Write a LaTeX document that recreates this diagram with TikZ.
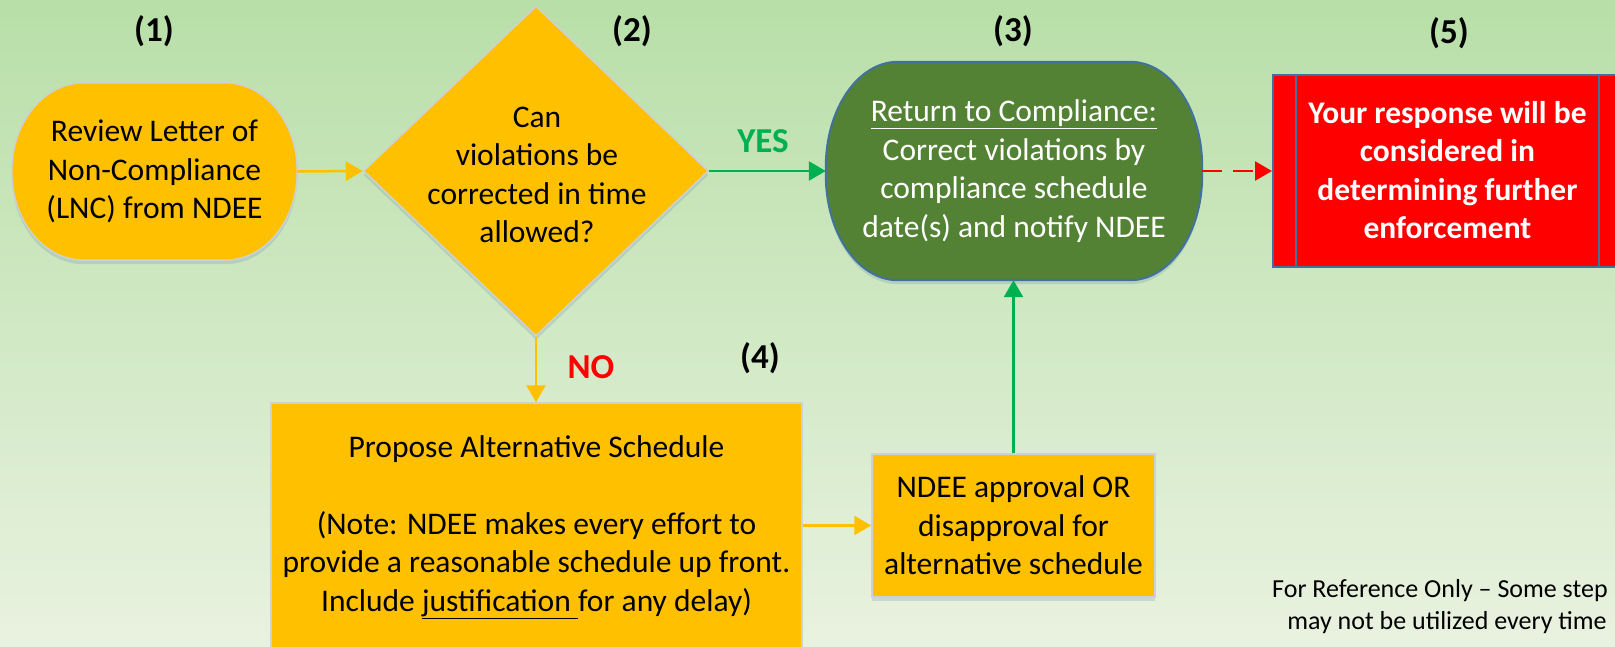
\documentclass[tikz,border=0pt]{standalone}
\usepackage{fontspec}
\setmainfont{Carlito}
\usetikzlibrary{shapes.geometric,arrows.meta,shadows}
\definecolor{amber}{RGB}{255,192,0}
\definecolor{dkgreen}{RGB}{84,130,53}
\definecolor{edgeblue}{RGB}{65,113,156}
\definecolor{arrgreen}{RGB}{0,176,80}
\definecolor{bgtop}{RGB}{184,223,168}
\definecolor{bgbot}{RGB}{233,242,224}
\definecolor{lightedge}{RGB}{205,208,212}
\definecolor{redfill}{RGB}{255,0,0}
\pgfdeclarelayer{bglayer}
\pgfdeclarelayer{shapelayer}
\pgfsetlayers{bglayer,shapelayer,main}
\newcommand\myellbox[4]{%
  \path[#1] ([xshift=#3]#2.north west) -- ([xshift=-#3]#2.north east)
    arc[start angle=90,end angle=0,x radius=#3,y radius=#4]
    -- ([yshift=#4]#2.south east)
    arc[start angle=0,end angle=-90,x radius=#3,y radius=#4]
    -- ([xshift=#3]#2.south west)
    arc[start angle=270,end angle=180,x radius=#3,y radius=#4]
    -- ([yshift=-#4]#2.north west)
    arc[start angle=180,end angle=90,x radius=#3,y radius=#4] -- cycle;}
\tikzset{
  bodytext/.style={align=center, inner sep=0pt, font=\fontsize{31.5}{38.5}\selectfont},
  softshadow/.style={drop shadow={shadow xshift=0pt, shadow yshift=-4pt, opacity=0.18, fill=edgeblue}},
  amberbox/.style={bodytext, rectangle, fill=amber, draw=lightedge, line width=1.5pt, softshadow},
  steplabel/.style={font=\bfseries\fontsize{35}{42}\selectfont, inner sep=0pt},
  decision/.style={font=\bfseries\fontsize{35}{42}\selectfont, inner sep=0pt},
  notetext/.style={inner sep=0pt, font=\fontsize{26}{32}\selectfont},
  conn/.style={line width=2.5pt, -{Triangle[length=17pt,width=19pt]}},
  orangeconn/.style={conn, draw=amber},
  greenconn/.style={conn, draw=arrgreen},
  redconn/.style={conn, draw=redfill, dash pattern=on 20pt off 11pt}
}
\begin{document}
\begin{tikzpicture}[x=1pt,y=-1pt]
\useasboundingbox (0,0) rectangle (1615,647);
\clip (0,0) rectangle (1615,647);
\begin{pgfonlayer}{bglayer}
  \shade[top color=bgtop, bottom color=bgbot] (0,0) rectangle (1615,647);
\end{pgfonlayer}

% step labels
\node[steplabel] (l1) at (154,31) {(1)};
\node[steplabel] (l2) at (632,31) {(2)};
\node[steplabel] (l3) at (1013,31) {(3)};
\node[steplabel] (l4) at (760,358) {(4)};
\node[steplabel] (l5) at (1449,33) {(5)};

% (1) review
\node[bodytext, minimum width=285pt, minimum height=177pt] (review) at (154.5,171.5)
  {Review Letter of\\Non-Compliance\\(LNC) from NDEE};
\begin{pgfonlayer}{shapelayer}
  \myellbox{fill=amber, draw=lightedge, line width=1.5pt, softshadow}{review}{72pt}{88pt}
\end{pgfonlayer}

% (2) decision diamond
\node[diamond, fill=amber, draw=lightedge, line width=1.5pt, softshadow,
      minimum width=345pt, minimum height=330pt, inner sep=0pt] (q) at (536,171) {};
\node[bodytext] (qtext) at (537,175) {Can\\violations be\\corrected in time\\allowed?};

% (3) return to compliance
\node[bodytext, text=white, minimum width=376pt, minimum height=218pt] (ret) at (1014,171)
  {\underline{Return to Compliance:}\\Correct violations by\\compliance schedule\\date(s) and notify NDEE};
\begin{pgfonlayer}{shapelayer}
  \myellbox{fill=dkgreen, draw=edgeblue, line width=2pt, softshadow}{ret}{72pt}{105pt}
\end{pgfonlayer}

% (5) response
\node[rectangle, fill=redfill, draw=edgeblue, line width=2pt, minimum width=349pt,
      minimum height=192pt, inner sep=0pt] (resp) at (1447.5,171) {};
\draw[edgeblue, line width=2pt] ([xshift=24pt]resp.north west) -- ([xshift=24pt]resp.south west);
\draw[edgeblue, line width=2pt] ([xshift=-24pt]resp.north east) -- ([xshift=-24pt]resp.south east);
\node[bodytext, text=white, font=\bfseries\fontsize{31.5}{38.5}\selectfont] (resptext) at (1447.5,170)
  {Your response will be\\considered in\\determining further\\enforcement};

% (4) alternative schedule
\node[amberbox, minimum width=531pt, minimum height=248pt] (alt) at (536.5,527)
  {Propose Alternative Schedule\\[38.5pt]
   (Note: NDEE makes every effort to\\
   provide a reasonable schedule up front.\\
   Include \underline{justification\ }for any delay)};

% approval
\node[amberbox, minimum width=283pt, minimum height=143pt] (appr) at (1013.5,525.5)
  {NDEE approval OR\\disapproval for\\alternative schedule};

% connectors
\draw[orangeconn] (review.east) -- (q.west);
\draw[greenconn] (q.east) -- (ret.west);
\draw[redconn] (ret.east) -- (resp.west);
\draw[orangeconn] (q.south) -- (q.south |- alt.north);
\draw[orangeconn] (alt.east |- appr.west) -- (appr.west);
\draw[greenconn] (appr.north) -- (appr.north |- ret.south);

% decision labels
\node[decision, text=arrgreen] (yes) at (763,141) {YES};
\node[decision, text=redfill] (no) at (591,367) {NO};

% footnote
\node[notetext, anchor=west] (note1) at (1272,591) {For Reference Only -- Some step};
\node[notetext] (note2) at (1447,623) {may not be utilized every time};
\end{tikzpicture}
\end{document}
